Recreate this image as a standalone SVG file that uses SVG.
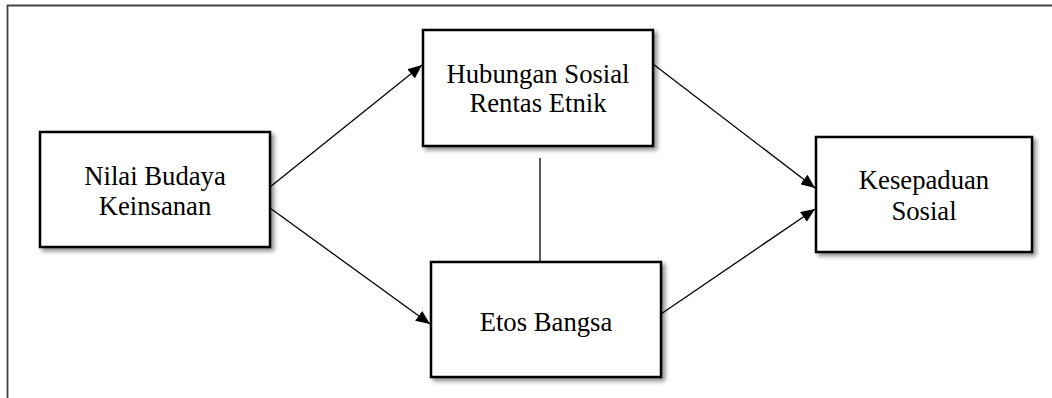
<svg xmlns="http://www.w3.org/2000/svg" width="1052" height="398" viewBox="0 0 1052 398">
<style>
.box{fill:#fff;stroke:#000;stroke-width:2.5;filter:url(#sh)}
.lbl{font-family:"Liberation Serif","Times New Roman",serif;font-size:26.7px;fill:#000;text-anchor:middle}
.con{stroke:#000;stroke-width:1.3;fill:none}
</style>
<defs>
<filter id="sh" x="-10%" y="-10%" width="125%" height="130%">
<feDropShadow dx="3" dy="3" stdDeviation="2.2" flood-color="#000" flood-opacity="0.45"/>
</filter>
<marker id="ah" viewBox="0 0 14 12" refX="14" refY="6" markerWidth="14" markerHeight="12" markerUnits="userSpaceOnUse" orient="auto">
<path d="M0,0 L14,6 L0,12 z" fill="#000"/>
</marker>
</defs>
<rect width="1052" height="398" fill="#fff"/>
<path d="M7.5,398 V5.5 H1052" fill="none" stroke="#444" stroke-width="1.8"/>
<g id="connectors">
<line class="con" x1="270" y1="187" x2="422" y2="65" marker-end="url(#ah)"/>
<line class="con" x1="270" y1="208" x2="430" y2="324" marker-end="url(#ah)"/>
<line class="con" x1="653" y1="64" x2="815" y2="188" marker-end="url(#ah)"/>
<line class="con" x1="661" y1="314" x2="815" y2="209" marker-end="url(#ah)"/>
<line class="con" x1="540" y1="158" x2="540" y2="262"/>
</g>
<g id="n1">
<rect class="box" x="40" y="132" width="230" height="115"/>
<text class="lbl" x="155" y="185">Nilai Budaya</text>
<text class="lbl" x="155" y="215">Keinsanan</text>
</g>
<g id="n2">
<rect class="box" x="423" y="30" width="230" height="116"/>
<text class="lbl" x="538" y="83">Hubungan Sosial</text>
<text class="lbl" x="538" y="112">Rentas Etnik</text>
</g>
<g id="n3">
<rect class="box" x="431" y="262" width="230" height="115"/>
<text class="lbl" x="546" y="331">Etos Bangsa</text>
</g>
<g id="n4">
<rect class="box" x="816" y="137" width="216" height="115"/>
<text class="lbl" x="924" y="189">Kesepaduan</text>
<text class="lbl" x="924" y="220">Sosial</text>
</g>
</svg>
